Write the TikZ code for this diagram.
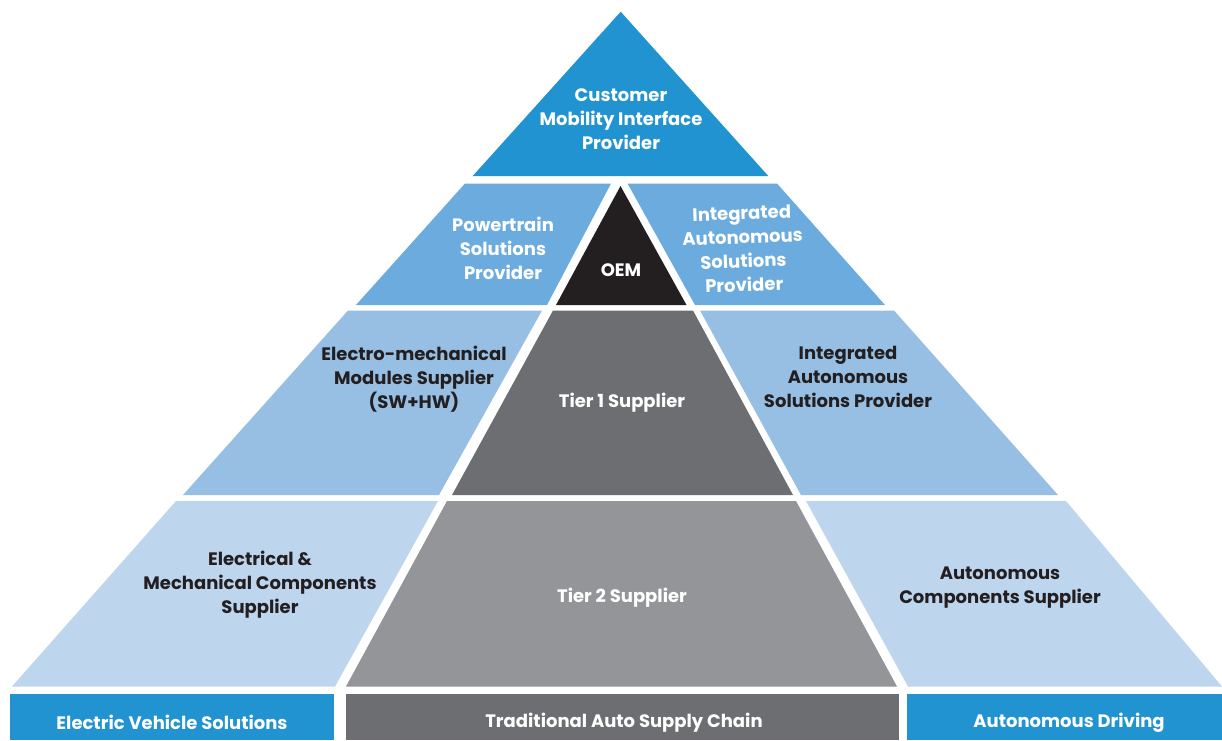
\documentclass[tikz,border=0pt]{standalone}
\usepackage{fontspec}
\setmainfont{Poppins}
\definecolor{topblue}{HTML}{2193D1}
\definecolor{rowtwo}{HTML}{6BABDD}
\definecolor{rowthree}{HTML}{97BFE4}
\definecolor{rowfour}{HTML}{BED5EE}
\definecolor{oemc}{HTML}{231F20}
\definecolor{tierone}{HTML}{6D6E71}
\definecolor{tiertwo}{HTML}{939598}
\definecolor{darktext}{HTML}{231F20}
\tikzset{
  lbl/.style={font=\fontsize{18}{24}\selectfont\bfseries, align=center, inner sep=0pt, text=white},
  dlbl/.style={lbl, text=darktext},
}
\begin{document}
\begin{tikzpicture}[x=1pt,y=-1pt]
\fill[white] (0,0) rectangle (1222,740);
\useasboundingbox (0,0) rectangle (1222,740);
% top
\fill[topblue] (620.7,11.7) -- (768.3,176) -- (472.7,176) -- cycle;
% row 2
\fill[rowtwo] (465,183.5) -- (611,183.5) -- (547,305) -- (356,305) -- cycle;
\fill[oemc] (620.5,186) -- (686.5,305) -- (556,305) -- cycle;
\fill[rowtwo] (627.5,183.5) -- (777,183.5) -- (885,305) -- (695,305) -- cycle;
% row 3
\fill[rowthree] (348,310.5) -- (542,310.5) -- (439,495) -- (183,495) -- cycle;
\fill[tierone] (553,310.5) -- (693,310.5) -- (793,495) -- (452,495) -- cycle;
\fill[rowthree] (700,310.5) -- (894,310.5) -- (1058,495) -- (801,495) -- cycle;
% row 4
\fill[rowfour] (176,501) -- (438,501) -- (335,686.5) -- (12,686.5) -- cycle;
\fill[tiertwo] (447,501) -- (796,501) -- (897,686.5) -- (346,686.5) -- cycle;
\fill[rowfour] (806,501) -- (1066,501) -- (1222,686.5) -- (908,686.5) -- cycle;
% bars
\fill[topblue] (10,694) rectangle (334,740);
\fill[tierone] (346,694) rectangle (899,740);
\fill[topblue] (907,694) rectangle (1222,740);
% labels
\node[lbl] (cmip) at (621,119) {Customer\\Mobility Interface\\Provider};
\node[lbl] (psp) at (503,248) {Powertrain\\Solutions\\Provider};
\node[lbl] (oem) at (621,270) {OEM};
\node[lbl, rotate=2] (iasp1) at (743,249) {Integrated\\Autonomous\\Solutions\\Provider};
\node[dlbl] (emms) at (414,379) {Electro-mechanical\\Modules Supplier\\(SW+HW)};
\node[lbl] (tier1) at (622,403) {Tier 1 Supplier};
\node[dlbl] (iasp2) at (848,377) {Integrated\\Autonomous\\Solutions Provider};
\node[dlbl] (emcs) at (260,585) {Electrical \&\\Mechanical Components\\Supplier};
\node[lbl] (tier2) at (622,598) {Tier 2 Supplier};
\node[dlbl] (acs) at (1000,588) {Autonomous\\Components Supplier};
\node[lbl] (evs) at (172,722.5) {Electric Vehicle Solutions};
\node[lbl] (tasc) at (624,722.5) {Traditional Auto Supply Chain};
\node[lbl] (ad) at (1069,722.5) {Autonomous Driving};
\end{tikzpicture}
\end{document}
